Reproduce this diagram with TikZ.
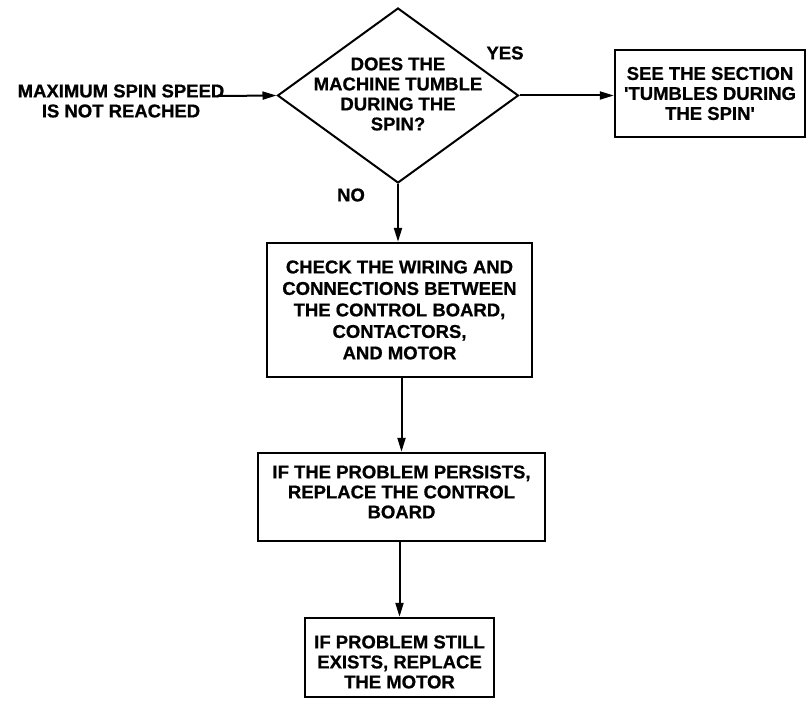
\documentclass[tikz,border=0pt]{standalone}
\usepackage{fontspec}
\setmainfont{Liberation Sans}[BoldFeatures={FakeBold=0.8}]
\usetikzlibrary{arrows.meta,shapes.geometric}
\begin{document}
\begin{tikzpicture}[x=1pt,y=-1pt,
  every node/.style={font=\fontsize{18.5}{20}\selectfont\bfseries, align=center, inner sep=0pt},
  stepbox/.style={draw, line width=2.4pt, minimum width=#1},
  conn/.style={line width=2pt, -{Triangle[length=14pt,width=8pt]}}]
\useasboundingbox (0,0) rectangle (806,703);
% decision
\node[draw, shape=diamond, line width=2pt, minimum width=241pt, minimum height=175pt, inner sep=0pt] (dia) at (398,95.5) {};
\node (diatxt) at (398,94) {DOES THE\\MACHINE TUMBLE\\DURING THE\\SPIN?};
% start text
\node (start) at (121,101) {MAXIMUM SPIN SPEED\\IS NOT REACHED};
\coordinate (startend) at (218,96);
% yes box
\node[stepbox=190pt, minimum height=87pt] (see) at (710,93.5) {SEE THE SECTION\\\textquotesingle TUMBLES DURING\\THE SPIN\textquotesingle};
% check box
\node[stepbox=265pt, minimum height=134pt] (check) at (399.5,310) {};
\node[font=\fontsize{18.5}{21.5}\selectfont\bfseries] (checktxt) at (check.center) {CHECK THE WIRING AND\\CONNECTIONS BETWEEN\\THE CONTROL BOARD,\\CONTACTORS,\\AND MOTOR};
% board box
\node[stepbox=287pt, minimum height=88pt] (board) at (401.5,497) {};
\node (boardtxt) at (401.5,492) {IF THE PROBLEM PERSISTS,\\REPLACE THE CONTROL\\BOARD};
% motor box
\node[stepbox=189pt, minimum height=79pt] (motor) at (399.5,657.5) {};
\node (motortxt) at (399.5,662) {IF PROBLEM STILL\\EXISTS, REPLACE\\THE MOTOR};
% labels
\node (yes) at (505,53) {YES};
\node (no) at (351,195) {NO};
% connectors
\draw[conn] (startend) -- (dia.west);
\draw[conn] (dia.east) -- (see.west |- dia.east);
\draw[conn] (dia.south) -- (check.north -| dia.south);
\draw[conn] (check.south -| board.north) -- (board.north);
\draw[conn] (board.south -| motor.north) -- (motor.north);
\end{tikzpicture}
\end{document}
